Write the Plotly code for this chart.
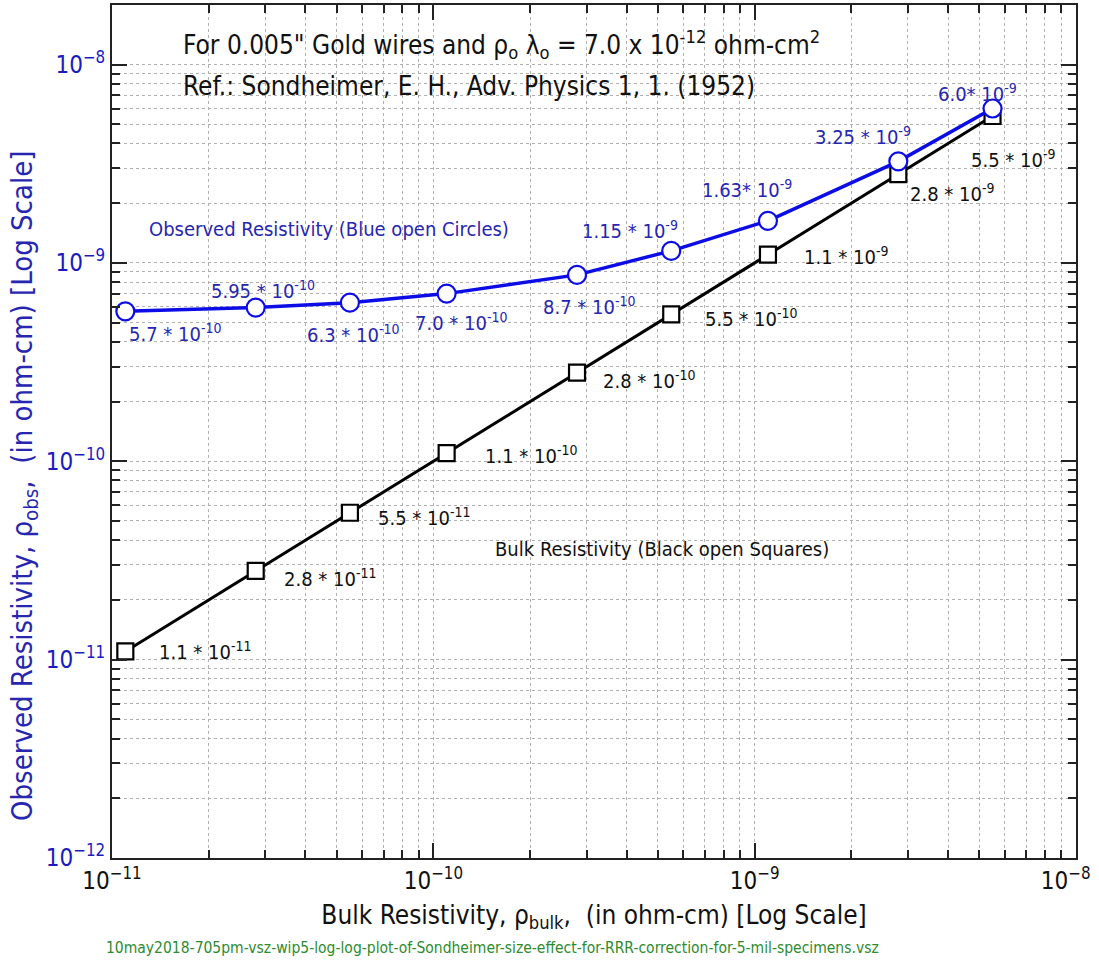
import math
import plotly.graph_objects as go

# Bulk resistivity (x) and observed resistivity for 0.005" gold wires
bulk = [1.1e-11, 2.8e-11, 5.5e-11, 1.1e-10, 2.8e-10, 5.5e-10, 1.1e-9, 2.8e-9, 5.5e-9]
observed = [5.7e-10, 5.95e-10, 6.3e-10, 7.0e-10, 8.7e-10, 1.15e-9, 1.63e-9, 3.25e-9, 6.0e-9]

observed_labels = ["5.7 * 10<sup>-10</sup>", "5.95 * 10<sup>-10</sup>", "6.3 * 10<sup>-10</sup>",
                   "7.0 * 10<sup>-10</sup>", "8.7 * 10<sup>-10</sup>", "1.15 * 10<sup>-9</sup>",
                   "1.63* 10<sup>-9</sup>", "3.25 * 10<sup>-9</sup>", "6.0* 10<sup>-9</sup>"]
bulk_labels = ["1.1 * 10<sup>-11</sup>", "2.8 * 10<sup>-11</sup>", "5.5 * 10<sup>-11</sup>",
               "1.1 * 10<sup>-10</sup>", "2.8 * 10<sup>-10</sup>", "5.5 * 10<sup>-10</sup>",
               "1.1 * 10<sup>-9</sup>", "2.8 * 10<sup>-9</sup>", "5.5 * 10<sup>-9</sup>"]

x_major = [1e-11, 1e-10, 1e-9, 1e-8]
# the last label carries non-breaking padding so it stays inside the page
x_tick_text = ["10<sup>−11</sup>", "10<sup>−10</sup>", "10<sup>−9</sup>",
               "10<sup>−8</sup>\u00a0\u00a0\u00a0"]
y_major = [1e-12, 1e-11, 1e-10, 1e-9, 1e-8]
y_tick_text = ["10<sup>−12</sup>", "10<sup>−11</sup>", "10<sup>−10</sup>", "10<sup>−9</sup>", "10<sup>−8</sup>"]

# label placement offsets in pixels (dx right, dy down) relative to each marker
observed_offsets = [(2, 22), (-47, -18), (-45, 31), (-34, 28), (-36, 31),
                    (-91, -21), (-68, -32), (-85, -25), (-57, -16)]
bulk_offsets = [(32, 0), (26, 7), (26, 4), (36, 2), (24, 7),
                (32, 4), (34, 1), (10, 19), (-24, 43)]

FONT = "DejaVu Sans Condensed, DejaVu Sans, sans-serif"
BLUE_LINE = "#0c0ce6"
BLUE_TEXT = "#2626b0"
GRID = "#b0b0b0"

def minor_vals(lo_exp, hi_exp):
    return [k * 10.0 ** e for e in range(lo_exp, hi_exp) for k in range(2, 10)]

fig = go.Figure()

fig.add_trace(go.Scatter(
    x=bulk, y=bulk, mode="lines+markers",
    line=dict(color="black", width=3),
    marker=dict(symbol="square", size=16, color="white",
                line=dict(color="black", width=2.2)),
    showlegend=False))

fig.add_trace(go.Scatter(
    x=bulk, y=observed, mode="lines+markers",
    line=dict(color=BLUE_LINE, width=3.5),
    marker=dict(symbol="circle", size=18, color="white",
                line=dict(color=BLUE_LINE, width=2.2)),
    showlegend=False))

annotations = []
for xv, yv, txt, (dx, dy) in zip(bulk, observed, observed_labels, observed_offsets):
    annotations.append(dict(x=math.log10(xv), y=math.log10(yv), xref="x", yref="y",
                            text=txt, showarrow=False, xanchor="left", yanchor="middle",
                            xshift=dx, yshift=-dy,
                            font=dict(family=FONT, size=20, color=BLUE_TEXT)))
for xv, txt, (dx, dy) in zip(bulk, bulk_labels, bulk_offsets):
    annotations.append(dict(x=math.log10(xv), y=math.log10(xv), xref="x", yref="y",
                            text=txt, showarrow=False, xanchor="left", yanchor="middle",
                            xshift=dx, yshift=-dy,
                            font=dict(family=FONT, size=20, color="#111111")))

L, R, T, B = 112, 1076, 5, 858
W, H = R - L, B - T

def px(xp):
    return (xp - L) / W

def py(yp):
    return (B - yp) / H

annotations += [
    dict(x=px(181), y=py(45), xref="paper", yref="paper", xanchor="left", yanchor="middle",
         text="For 0.005\" Gold wires and ρ<sub>o</sub> λ<sub>o</sub> = 7.0 x 10<sup>-12</sup> ohm-cm<sup>2</sup>",
         showarrow=False, font=dict(family=FONT, size=26, color="#111111")),
    dict(x=px(181), y=py(86), xref="paper", yref="paper", xanchor="left", yanchor="middle",
         text="Ref.: Sondheimer, E. H., Adv. Physics 1, 1. (1952)",
         showarrow=False, font=dict(family=FONT, size=26, color="#111111")),
    dict(x=px(147), y=py(229), xref="paper", yref="paper", xanchor="left", yanchor="middle",
         text="Observed Resistivity (Blue open Circles)",
         showarrow=False, font=dict(family=FONT, size=20, color=BLUE_TEXT)),
    dict(x=px(493), y=py(549), xref="paper", yref="paper", xanchor="left", yanchor="middle",
         text="Bulk Resistivity (Black open Squares)",
         showarrow=False, font=dict(family=FONT, size=20, color="#111111")),
    dict(x=px(24), y=py(486), xref="paper", yref="paper", xanchor="center", yanchor="middle",
         text="Observed Resistivity, ρ<sub>obs</sub>,  (in ohm-cm) [Log Scale]", textangle=-90,
         showarrow=False, font=dict(family=FONT, size=29, color=BLUE_TEXT)),
    dict(x=px(104), y=py(948), xref="paper", yref="paper", xanchor="left", yanchor="middle",
         text="10may2018-705pm-vsz-wip5-log-log-plot-of-Sondheimer-size-effect-for-RRR-correction-for-5-mil-specimens.vsz",
         showarrow=False, font=dict(family=FONT, size=15.5, color="#2e8b2e")),
]

axis_common = dict(
    type="log", showline=True, linecolor="#222222", linewidth=2, mirror="ticks",
    ticks="inside", ticklen=15, tickwidth=2, tickcolor="#222222",
    showgrid=True, gridcolor=GRID, griddash="dot", gridwidth=1,
    zeroline=False, ticklabeloverflow="allow", automargin=False,
)

fig.update_xaxes(
    **axis_common, range=[-11.0001, -7.9999], tickvals=x_major, ticktext=x_tick_text,
    tickfont=dict(family=FONT, size=24, color="#111111"),
    minor=dict(tickvals=minor_vals(-11, -8), ticks="inside", ticklen=8, tickwidth=1.5,
               tickcolor="#222222", showgrid=True, gridcolor=GRID, griddash="dot", gridwidth=1),
    title=dict(text="Bulk Resistivity, ρ<sub>bulk</sub>,  (in ohm-cm) [Log Scale]",
               font=dict(family=FONT, size=26, color="#111111"), standoff=12),
)
fig.update_yaxes(
    **axis_common, range=[-12, -7.70], tickvals=y_major, ticktext=y_tick_text,
    tickfont=dict(family=FONT, size=24, color="#1a1ac0"),
    minor=dict(tickvals=minor_vals(-12, -7), ticks="inside", ticklen=8, tickwidth=1.5,
               tickcolor="#222222", showgrid=True, gridcolor=GRID, griddash="dot", gridwidth=1),
)

fig.update_layout(
    width=1099, height=963,
    margin=dict(l=L, r=1099 - R, t=T, b=963 - B),
    paper_bgcolor="white", plot_bgcolor="white",
    annotations=annotations,
    font=dict(family=FONT),
)

fig.write_html("out.html")
